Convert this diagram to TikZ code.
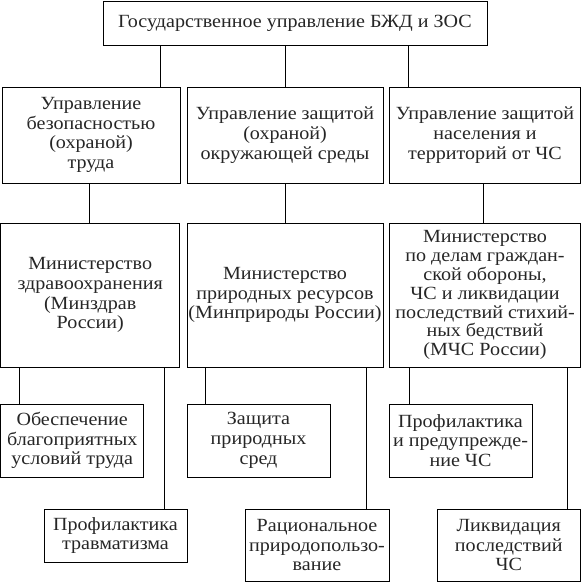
\documentclass[tikz,border=0pt]{standalone}
\usepackage{fontspec}
\setmainfont[FakeStretch=1.08]{Liberation Serif}
\begin{document}
\begin{tikzpicture}[x=1pt,y=-1pt,
  box/.style={draw, line width=1pt, inner sep=0pt, align=center,
    text=black!85, font=\fontsize{18.6}{19.8}\selectfont},
  link/.style={line width=1pt}]
\useasboundingbox (0,0) rectangle (582,582);
% top
\node[box, minimum width=384, minimum height=44] (top) at (295,23) {Государственное управление БЖД и ЗОС};
% row 2
\node[box, minimum width=178, minimum height=96] (ua) at (91,135) {Управление\\безопасностью\\(охраной)\\труда};
\node[box, minimum width=196, minimum height=96] (ub) at (285,135) {Управление защитой\\(охраной)\\окружающей среды};
\node[box, minimum width=191, minimum height=96] (uc) at (485,135) {Управление защитой\\населения и\\территорий от ЧС};
% row 3
\node[box, minimum width=178.5, minimum height=144] (ma) at (90.2,295) {Министерство\\здравоохранения\\(Минздрав\\России)};
\node[box, minimum width=196, minimum height=144] (mb) at (285,295) {Министерство\\природных ресурсов\\(Минприроды России)};
\node[box, minimum width=191, minimum height=144, font=\fontsize{18.6}{18.9}\selectfont] (mc) at (485,295) {Министерство\\по делам граждан-\\ской обороны,\\ЧС и ликвидации\\последствий стихий-\\ных бедствий\\(МЧС России)};
% row 4
\node[box, minimum width=143.5, minimum height=73] (da) at (72.2,440.5) {Обеспечение\\благоприятных\\условий труда};
\node[box, minimum width=143, minimum height=73] (db) at (258.5,440.5) {Защита\\природных\\сред};
\node[box, minimum width=143, minimum height=73] (dc) at (460.5,440.5) {Профилактика\\и предупрежде-\\ние ЧС};
% row 5
\node[box, minimum width=143, minimum height=53] (ea) at (115.5,535.5) {Профилактика\\травматизма};
\node[box, minimum width=144, minimum height=72] (eb) at (317,545) {Рациональное\\природопользо-\\вание};
\node[box, minimum width=143.5, minimum height=72] (ec) at (508.75,545) {Ликвидация\\последствий\\ЧС};
% x positions of connectors
\coordinate (x1) at (160,0);
\coordinate (x2) at (285,0);
\coordinate (x3) at (408,0);
\coordinate (x4) at (89,0);
\coordinate (x5) at (483,0);
\coordinate (x6) at (19,0);
\coordinate (x7) at (164,0);
\coordinate (x8) at (205,0);
\coordinate (x9) at (366,0);
\coordinate (x10) at (409,0);
\coordinate (x11) at (567,0);
% connectors
\draw[link] (top.south -| x1) -- (ua.north -| x1);
\draw[link] (top.south -| x2) -- (ub.north -| x2);
\draw[link] (top.south -| x3) -- (uc.north -| x3);
\draw[link] (ua.south -| x4) -- (ma.north -| x4);
\draw[link] (ub.south -| x2) -- (mb.north -| x2);
\draw[link] (uc.south -| x5) -- (mc.north -| x5);
\draw[link] (ma.south -| x6) -- (da.north -| x6);
\draw[link] (ma.south -| x7) -- (ea.north -| x7);
\draw[link] (mb.south -| x8) -- (db.north -| x8);
\draw[link] (mb.south -| x9) -- (eb.north -| x9);
\draw[link] (mc.south -| x10) -- (dc.north -| x10);
\draw[link] (mc.south -| x11) -- (ec.north -| x11);
\end{tikzpicture}
\end{document}
